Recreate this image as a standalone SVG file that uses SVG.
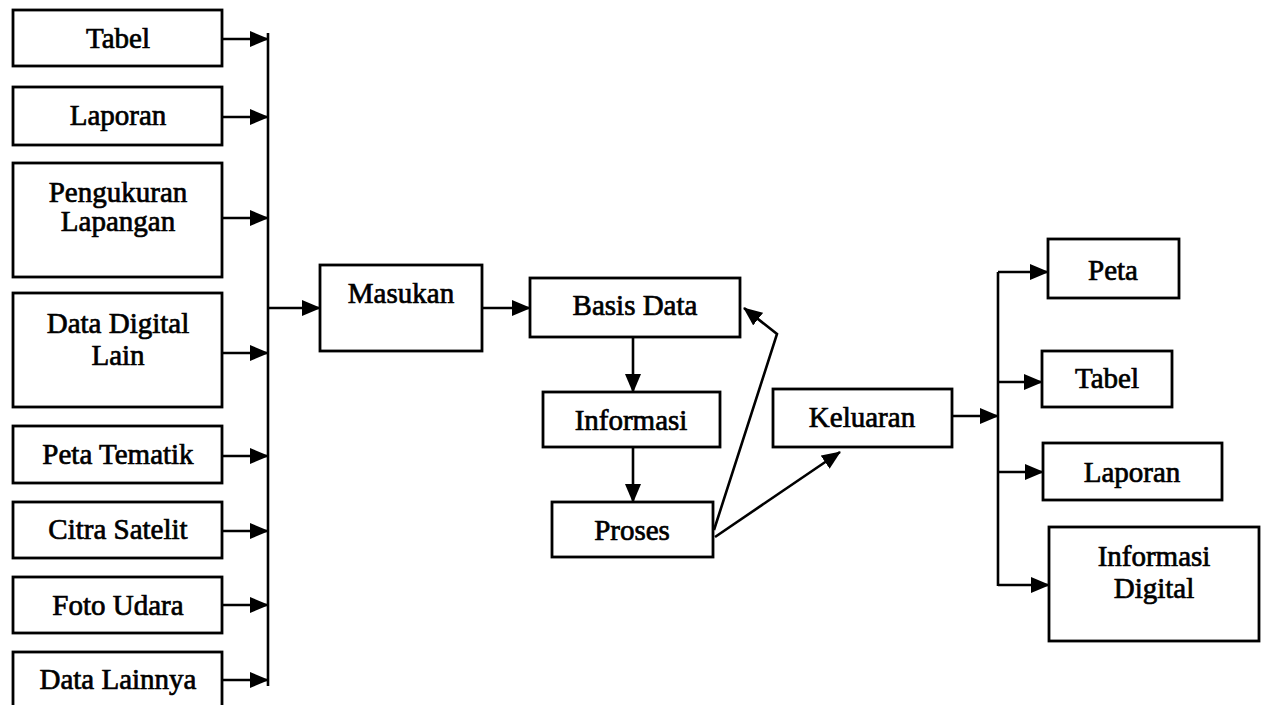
<svg xmlns="http://www.w3.org/2000/svg" width="1267" height="705" viewBox="0 0 1267 705">
<style>
.box{fill:#fff;stroke:#000;stroke-width:2.8}
.t{font-family:"Liberation Serif","Times New Roman",serif;font-size:29px;fill:#000;stroke:#000;stroke-width:0.7;text-anchor:middle}
.ln{fill:none;stroke:#000;stroke-width:2.6}
.ar{fill:none;stroke:#000;stroke-width:2.6;marker-end:url(#ah)}
</style>
<defs>
<marker id="ah" markerUnits="userSpaceOnUse" viewBox="0 0 19 16" markerWidth="19" markerHeight="16" refX="18" refY="8" orient="auto">
<path d="M0,0 L19,8 L0,16 z" fill="#000"/>
</marker>
</defs>
<rect width="1267" height="705" fill="#fff"/>
<g id="connectors">
<line class="ln" x1="268" y1="33" x2="268" y2="686"/>
<line class="ar" x1="222" y1="39" x2="268" y2="39"/>
<line class="ar" x1="222" y1="117" x2="268" y2="117"/>
<line class="ar" x1="222" y1="218" x2="268" y2="218"/>
<line class="ar" x1="222" y1="353" x2="268" y2="353"/>
<line class="ar" x1="222" y1="456" x2="268" y2="456"/>
<line class="ar" x1="222" y1="531" x2="268" y2="531"/>
<line class="ar" x1="222" y1="605" x2="268" y2="605"/>
<line class="ar" x1="222" y1="680" x2="268" y2="680"/>
<line class="ar" x1="268" y1="308" x2="320" y2="308"/>
<line class="ar" x1="482" y1="308" x2="530" y2="308"/>
<line class="ar" x1="633" y1="337" x2="633" y2="392"/>
<line class="ar" x1="633" y1="447" x2="633" y2="502"/>
<polyline class="ar" points="714,530 777,334 744,308"/>
<line class="ar" x1="715" y1="537" x2="840" y2="452"/>
<line class="ar" x1="952" y1="416" x2="998" y2="416"/>
<line class="ln" x1="998" y1="272" x2="998" y2="586"/>
<line class="ar" x1="998" y1="272" x2="1048" y2="272"/>
<line class="ar" x1="998" y1="382" x2="1042" y2="382"/>
<line class="ar" x1="998" y1="472" x2="1043" y2="472"/>
<line class="ar" x1="998" y1="585" x2="1049" y2="585"/>
</g>
<g id="n-tabel"><rect class="box" x="13" y="10" width="209" height="56"/><text class="t" x="118" y="48">Tabel</text></g>
<g id="n-laporan"><rect class="box" x="13" y="87" width="209" height="58"/><text class="t" x="118" y="125">Laporan</text></g>
<g id="n-pengukuran"><rect class="box" x="13" y="163" width="209" height="114"/><text class="t" x="118" y="202">Pengukuran</text><text class="t" x="118" y="231">Lapangan</text></g>
<g id="n-datadigital"><rect class="box" x="13" y="293" width="209" height="114"/><text class="t" x="118" y="333">Data Digital</text><text class="t" x="118" y="365">Lain</text></g>
<g id="n-petatematik"><rect class="box" x="13" y="426" width="209" height="57"/><text class="t" x="118" y="464">Peta Tematik</text></g>
<g id="n-citra"><rect class="box" x="13" y="502" width="209" height="56"/><text class="t" x="118" y="539">Citra Satelit</text></g>
<g id="n-foto"><rect class="box" x="13" y="577" width="209" height="56"/><text class="t" x="118" y="615">Foto Udara</text></g>
<g id="n-datalainnya"><rect class="box" x="13" y="652" width="209" height="60"/><text class="t" x="118" y="689">Data Lainnya</text></g>
<g id="n-masukan"><rect class="box" x="320" y="265" width="162" height="86"/><text class="t" x="401" y="303">Masukan</text></g>
<g id="n-basisdata"><rect class="box" x="530" y="278" width="210" height="59"/><text class="t" x="635" y="315">Basis Data</text></g>
<g id="n-informasi"><rect class="box" x="543" y="392" width="177" height="55"/><text class="t" x="631" y="430">Informasi</text></g>
<g id="n-proses"><rect class="box" x="552" y="502" width="161" height="55"/><text class="t" x="632" y="540">Proses</text></g>
<g id="n-keluaran"><rect class="box" x="773" y="389" width="179" height="58"/><text class="t" x="862" y="427">Keluaran</text></g>
<g id="n-peta"><rect class="box" x="1048" y="239" width="131" height="59"/><text class="t" x="1113" y="280">Peta</text></g>
<g id="n-tabel2"><rect class="box" x="1042" y="351" width="130" height="56"/><text class="t" x="1107" y="388">Tabel</text></g>
<g id="n-laporan2"><rect class="box" x="1043" y="443" width="179" height="57"/><text class="t" x="1132" y="482">Laporan</text></g>
<g id="n-infodigital"><rect class="box" x="1049" y="527" width="210" height="114"/><text class="t" x="1154" y="566">Informasi</text><text class="t" x="1154" y="598">Digital</text></g>
</svg>
